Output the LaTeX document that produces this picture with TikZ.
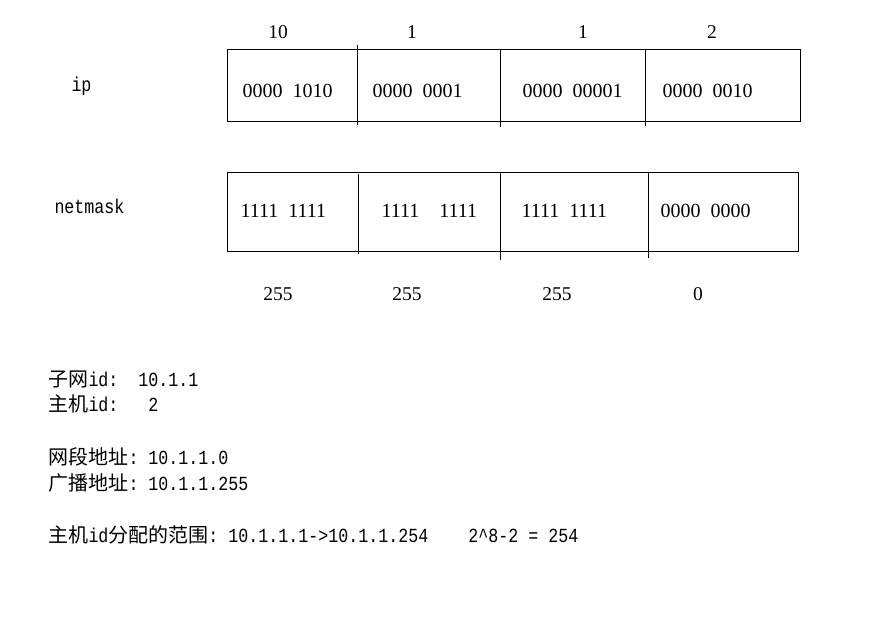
\documentclass[tikz,border=0pt]{standalone}
\usepackage{fontspec}
\setmainfont{Liberation Serif}
\setmonofont[FakeStretch=0.833]{Liberation Mono}
\newfontfamily\cjk{Noto Sans CJK SC}
\newfontfamily\bitfont[WordSpace=2]{Liberation Serif}
\usetikzlibrary{positioning}
\newcommand{\zh}[1]{{\cjk\fontsize{20}{22}\selectfont #1}}

\begin{document}
\begin{tikzpicture}[x=1pt, y=-1pt, line width=1pt,
  bits/.style={anchor=base west, inner sep=0, font=\bitfont\fontsize{20}{24}\selectfont},
  dec/.style={anchor=base, inner sep=0, font=\fontsize{19.5}{24}\selectfont},
  lbl/.style={anchor=base west, inner sep=0, font=\ttfamily\fontsize{20}{22}\selectfont}]
\useasboundingbox (0,0) rectangle (883,628);
% ip row
\draw (227,49.5) rectangle (800.5,122);
\draw (357.5,45.5) -- (357.5,125.5);
\draw (500.5,49.5) -- (500.5,127);
\draw (645.5,49.5) -- (645.5,126);
% netmask row
\draw (227.5,172.5) rectangle (798,252);
\draw (358.5,174) -- (358.5,254);
\draw (500.5,172.5) -- (500.5,260);
\draw (648.5,172.5) -- (648.5,258);
% labels
\node[lbl] (ip) at (71,92) {ip};
\node[lbl] (mask) at (54,214) {netmask};
\foreach \x/\d [count=\i] in {278/10, 412/1, 583/1, 712/2}
  \node[dec] (ipdec\i) at (\x,39) {\d};
\foreach \x/\d [count=\i] in {278/255, 407/255, 557/255, 698/0}
  \node[dec] (maskdec\i) at (\x,300) {\d};
\node[bits] (ipbin1) at (242,98) {0000 1010};
\node[bits] (ipbin2) at (372,98) {0000 0001};
\node[bits] (ipbin3) at (522,98) {0000 00001};
\node[bits] (ipbin4) at (662,98) {0000 0010};
\node[bits] (maskbin1) at (240,218) {1111 1111};
\node[bits] (maskbin2) at (381,218) {1111\ \ 1111};
\node[bits] (maskbin3) at (521,218) {1111 1111};
\node[bits] (maskbin4) at (660,218) {0000 0000};
% notes
\node[lbl] (subnet) at (48,386) {\zh{子网}id:\ \ 10.1.1};
\node[lbl] (host) at (48,411) {\zh{主机}id:\ \ \ 2};
\node[lbl] (net) at (48,464) {\zh{网段地址}: 10.1.1.0};
\node[lbl] (bcast) at (48,490) {\zh{广播地址}: 10.1.1.255};
\node[lbl] (range) at (48,542) {\zh{主机}id\zh{分配的范围}: 10.1.1.1->10.1.1.254\ \ \ \ 2\textasciicircum 8-2 = 254};
\end{tikzpicture}
\end{document}
